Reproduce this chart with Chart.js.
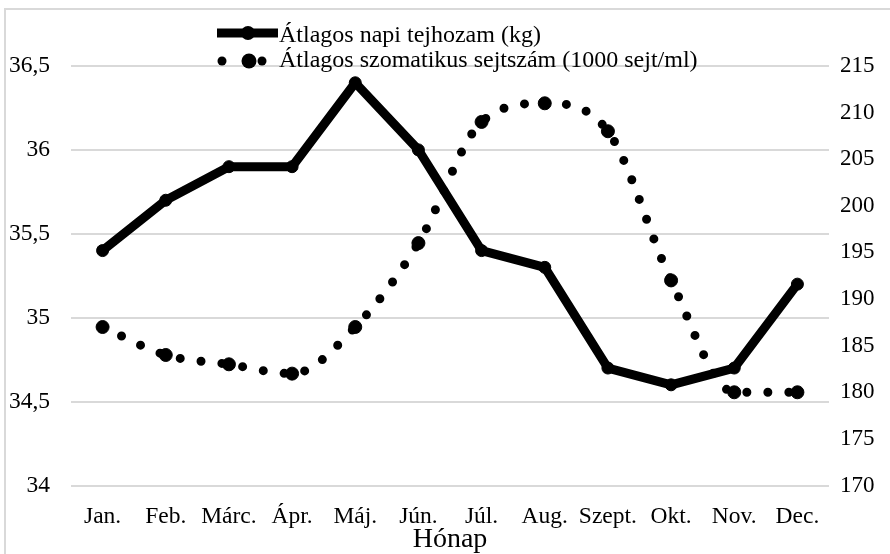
<!DOCTYPE html>
<html>
<head>
<meta charset="utf-8">
<script src="https://cdn.jsdelivr.net/npm/chart.js@4.4.1/dist/chart.umd.min.js"></script>
<style>
    html, body { margin: 0; padding: 0; background: #fff; overflow: hidden; }
    #chart { display: block; }
</style>
</head>
<body>
<canvas id="chart" width="890" height="554"></canvas>
<script>
// ==============================
// DATA
// ==============================

const months = ['Jan.', 'Feb.', 'Márc.', 'Ápr.', 'Máj.', 'Jún.', 'Júl.', 'Aug.', 'Szept.', 'Okt.', 'Nov.', 'Dec.'];
const milkYield = [35.4, 35.7, 35.9, 35.9, 36.4, 36.0, 35.4, 35.3, 34.7, 34.6, 34.7, 35.2];
const somaticCells = [187, 184, 183, 182, 187, 196, 209, 211, 208, 192, 180, 180];
const leftTicks = [34, 34.5, 35, 35.5, 36, 36.5];
const rightTicks = [170, 175, 180, 185, 190, 195, 200, 205, 210, 215];
const seriesNames = ['Átlagos napi tejhozam (kg)', 'Átlagos szomatikus sejtszám (1000 sejt/ml)'];
const xTitle = 'Hónap';

const FONT = "'Liberation Serif', 'Times New Roman', serif";
Chart.defaults.font.family = FONT;
Chart.defaults.color = '#000';

// ==============================
// FRAME (top + left edge of the chart box)
// ==============================

const chartFrame = {
    id: 'chartFrame',
    beforeDraw(chart) {
        const ctx = chart.ctx;
        ctx.save();
        ctx.strokeStyle = '#d9d9d9';
        ctx.lineWidth = 2;
        ctx.beginPath();
        ctx.moveTo(5, chart.height);
        ctx.lineTo(5, 9);
        ctx.lineTo(chart.width, 9);
        ctx.stroke();
        ctx.restore();
    }
};

// ==============================
// LEGEND (line + marker symbols, stacked)
// ==============================

const stackedLegend = {
    id: 'stackedLegend',
    afterDraw(chart) {
        const ctx = chart.ctx;
        ctx.save();
        ctx.fillStyle = '#000';
        ctx.strokeStyle = '#000';

        // solid series symbol
        ctx.lineWidth = 9;
        ctx.lineCap = 'butt';
        ctx.beginPath();
        ctx.moveTo(217, 33);
        ctx.lineTo(278, 33);
        ctx.stroke();
        ctx.beginPath();
        ctx.arc(248, 33, 7, 0, Math.PI * 2);
        ctx.fill();

        // dotted series symbol
        [[222, 4.5], [262, 4.5], [249, 7.5]].forEach(([x, r]) => {
            ctx.beginPath();
            ctx.arc(x, 61, r, 0, Math.PI * 2);
            ctx.fill();
        });

        ctx.font = '24px ' + FONT;
        ctx.textBaseline = 'alphabetic';
        ctx.textAlign = 'left';
        ctx.fillText(seriesNames[0], 279, 42);
        ctx.fillText(seriesNames[1], 279, 67);
        ctx.restore();
    }
};

// ==============================
// CHART
// ==============================

new Chart(document.getElementById('chart'), {
    type: 'line',
    data: {
        labels: months,
        datasets: [{
            label: seriesNames[0],
            data: milkYield,
            yAxisID: 'y',
            borderColor: '#000',
            borderWidth: 9,
            borderJoinStyle: 'round',
            tension: 0,
            pointRadius: 6,
            pointBorderWidth: 1,
            pointBackgroundColor: '#000',
            pointBorderColor: '#000'
        }, {
            label: seriesNames[1],
            data: somaticCells,
            yAxisID: 'y1',
            borderColor: '#000',
            borderWidth: 9,
            borderDash: [0, 21],
            borderCapStyle: 'round',
            cubicInterpolationMode: 'monotone',
            pointRadius: 6.5,
            pointBorderWidth: 1,
            pointBackgroundColor: '#000',
            pointBorderColor: '#000'
        }]
    },
    options: {
        responsive: false,
        animation: false,
        layout: { padding: { top: 66, left: 0, right: 0, bottom: 0 } },
        plugins: {
            legend: { display: false },
            tooltip: { enabled: false }
        },
        scales: {
            x: {
                offset: true,
                grid: { display: false },
                border: { display: false },
                ticks: { font: { size: 23.5 }, padding: 9, maxRotation: 0, autoSkip: false },
                title: { display: true, text: xTitle, font: { size: 28, lineHeight: 1 }, padding: { top: 0, bottom: 0 } },
                afterFit: s => { s.height = 68.5; }
            },
            y: {
                position: 'left',
                min: leftTicks[0],
                max: leftTicks[leftTicks.length - 1],
                afterBuildTicks: s => { s.ticks = leftTicks.map(v => ({ value: v })); },
                grid: { color: '#d9d9d9', lineWidth: 2, drawTicks: false },
                border: { display: false },
                ticks: {
                    font: { size: 23.5 },
                    padding: 21,
                    callback: v => String(v).replace('.', ',')
                },
                afterFit: s => { s.width = 71; }
            },
            y1: {
                position: 'right',
                min: rightTicks[0],
                max: rightTicks[rightTicks.length - 1],
                afterBuildTicks: s => { s.ticks = rightTicks.map(v => ({ value: v })); },
                grid: { display: false, drawTicks: false },
                border: { display: false },
                ticks: { font: { size: 23 }, padding: 11 },
                afterFit: s => { s.width = 61; }
            }
        }
    },
    plugins: [chartFrame, stackedLegend]
});
</script>
</body>
</html>
